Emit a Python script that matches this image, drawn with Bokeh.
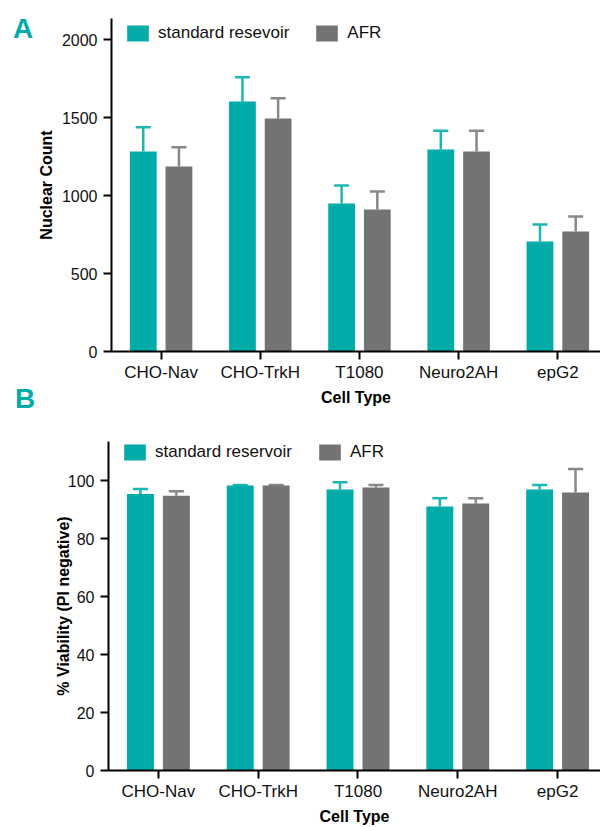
import numpy as np
from bokeh.plotting import figure
from bokeh.models import (ColumnDataSource, Range1d, FixedTicker, Legend, LegendItem,
                          Whisker, TeeHead, Div)
from bokeh.layouts import column, row
from bokeh.embed import file_html
from bokeh.resources import INLINE

# ---- data ----
cells = ["CHO-Nav", "CHO-TrkH", "T1080", "Neuro2AH", "epG2"]
series = ["standard resevoir", "AFR"]
series_b = ["standard reservoir", "AFR"]

count_std = [1282, 1603, 949, 1295, 705]
count_std_err = [156, 156, 115, 120, 109]
count_afr = [1186, 1494, 910, 1282, 769]
count_afr_err = [124, 130, 116, 133, 96]

via_std = [95.4, 98.3, 96.9, 91.1, 96.9]
via_std_err = [1.7, 0.2, 2.5, 2.8, 1.6]
via_afr = [94.8, 98.3, 97.6, 92.1, 95.9]
via_afr_err = [1.5, 0.2, 0.9, 1.8, 8.1]

y_ticks_a = [0, 500, 1000, 1500, 2000]
y_ticks_b = [0, 20, 40, 60, 80, 100]
panel_letters = ["A", "B"]

TEAL = "#00aba8"
GRAY = "#737373"
TEAL_ERR = "#1db6b2"
GRAY_ERR = "#888888"
FONT = "Liberation Sans"
OFF = 0.18
BW = 0.27
LAB_W = 34


def make_panel(std, std_err, afr, afr_err, ymax, yticks, labels, ylabel,
               width, height, left, top, bottom, legend_top_gap, ylab_standoff):
    idx = np.arange(len(cells))
    p = figure(width=width, height=height, output_backend="svg", toolbar_location=None,
               x_range=Range1d(-0.5, 4.43), y_range=Range1d(0, ymax),
               min_border_left=left, min_border_right=0,
               min_border_top=top, min_border_bottom=bottom)
    p.outline_line_color = None
    p.grid.grid_line_color = None
    p.background_fill_color = "white"
    p.border_fill_color = "white"

    s1 = ColumnDataSource(dict(x=idx - OFF, top=std, upper=np.array(std) + np.array(std_err)))
    s2 = ColumnDataSource(dict(x=idx + OFF, top=afr, upper=np.array(afr) + np.array(afr_err)))

    w1 = Whisker(base="x", lower="top", upper="upper", source=s1, line_color=TEAL_ERR,
                 line_width=2.5, lower_head=None,
                 upper_head=TeeHead(size=15, line_color=TEAL_ERR, line_width=2.5))
    w2 = Whisker(base="x", lower="top", upper="upper", source=s2, line_color=GRAY_ERR,
                 line_width=2.5, lower_head=None,
                 upper_head=TeeHead(size=15, line_color=GRAY_ERR, line_width=2.5))
    p.add_layout(w1)
    p.add_layout(w2)

    r1 = p.vbar(x="x", top="top", width=BW, bottom=0, source=s1, fill_color=TEAL, line_color=None)
    r2 = p.vbar(x="x", top="top", width=BW, bottom=0, source=s2, fill_color=GRAY, line_color=None)

    frame_h = height - top - bottom
    legend = Legend(items=[LegendItem(label=labels[0], renderers=[r1]),
                           LegendItem(label=labels[1], renderers=[r2])],
                    orientation="horizontal", location=(13, frame_h - legend_top_gap - 20),
                    padding=0, margin=0, spacing=24, label_standoff=7,
                    glyph_width=27, glyph_height=20, label_height=20,
                    label_text_font=FONT, label_text_font_size="17px",
                    label_text_color="#111111", border_line_color=None,
                    background_fill_alpha=0)
    p.add_layout(legend)

    # axes
    p.xaxis.ticker = FixedTicker(ticks=list(idx))
    p.xaxis.major_label_overrides = {int(i): c for i, c in zip(idx, cells)}
    p.yaxis.ticker = FixedTicker(ticks=yticks)
    for ax in (p.xaxis, p.yaxis):
        ax.axis_line_width = 2
        ax.axis_line_color = "black"
        ax.major_tick_line_width = 2
        ax.major_tick_line_color = "black"
        ax.minor_tick_line_color = None
        ax.major_tick_in = 0
        ax.major_label_text_font = FONT
        ax.major_label_text_font_size = "16px"
        ax.major_label_text_color = "#111111"
        ax.axis_label_text_font = FONT
        ax.axis_label_text_font_size = "16px"
        ax.axis_label_text_font_style = "bold"
        ax.axis_label_text_color = "black"
    p.xaxis.major_label_text_font_size = "17px"
    p.xaxis.major_tick_out = 8
    p.yaxis.major_tick_out = 8
    p.xaxis.major_label_standoff = 3
    p.yaxis.major_label_standoff = 6
    p.xaxis.axis_label = "Cell Type"
    p.xaxis.axis_label_standoff = 4
    p.yaxis.axis_label = ylabel
    p.yaxis.axis_label_standoff = ylab_standoff
    return p


pa = make_panel(count_std, count_std_err, count_afr, count_afr_err, 2135, y_ticks_a,
                series, "Nuclear Count", 600 - LAB_W, 412, 108 - LAB_W, 18, 61, 5, 4)
pb = make_panel(via_std, via_std_err, via_afr, via_afr_err, 113.5, y_ticks_b,
                series_b, "% Viability (PI negative)", 600, 415, 108, 29, 56, 2, -7)

# narrow HTML strip holding the panel letters
letter_style = ("position:absolute;font-family:'Liberation Sans';font-weight:bold;"
                "font-size:28px;line-height:28px;color:%s;" % TEAL)
strip_html = (
    '<div style="position:relative;width:%dpx;height:412px;">' % LAB_W
    + '<span style="%sleft:13px;top:15px;">%s</span>' % (letter_style, panel_letters[0])
    + '<span style="%sleft:15px;top:385px;">%s</span>' % (letter_style, panel_letters[1])
    + '</div>'
)
strip = Div(text=strip_html, width=LAB_W, height=412, margin=0)

layout = column(row(strip, pa, spacing=0), pb, spacing=0)
open("out.html", "w").write(file_html(layout, INLINE))
